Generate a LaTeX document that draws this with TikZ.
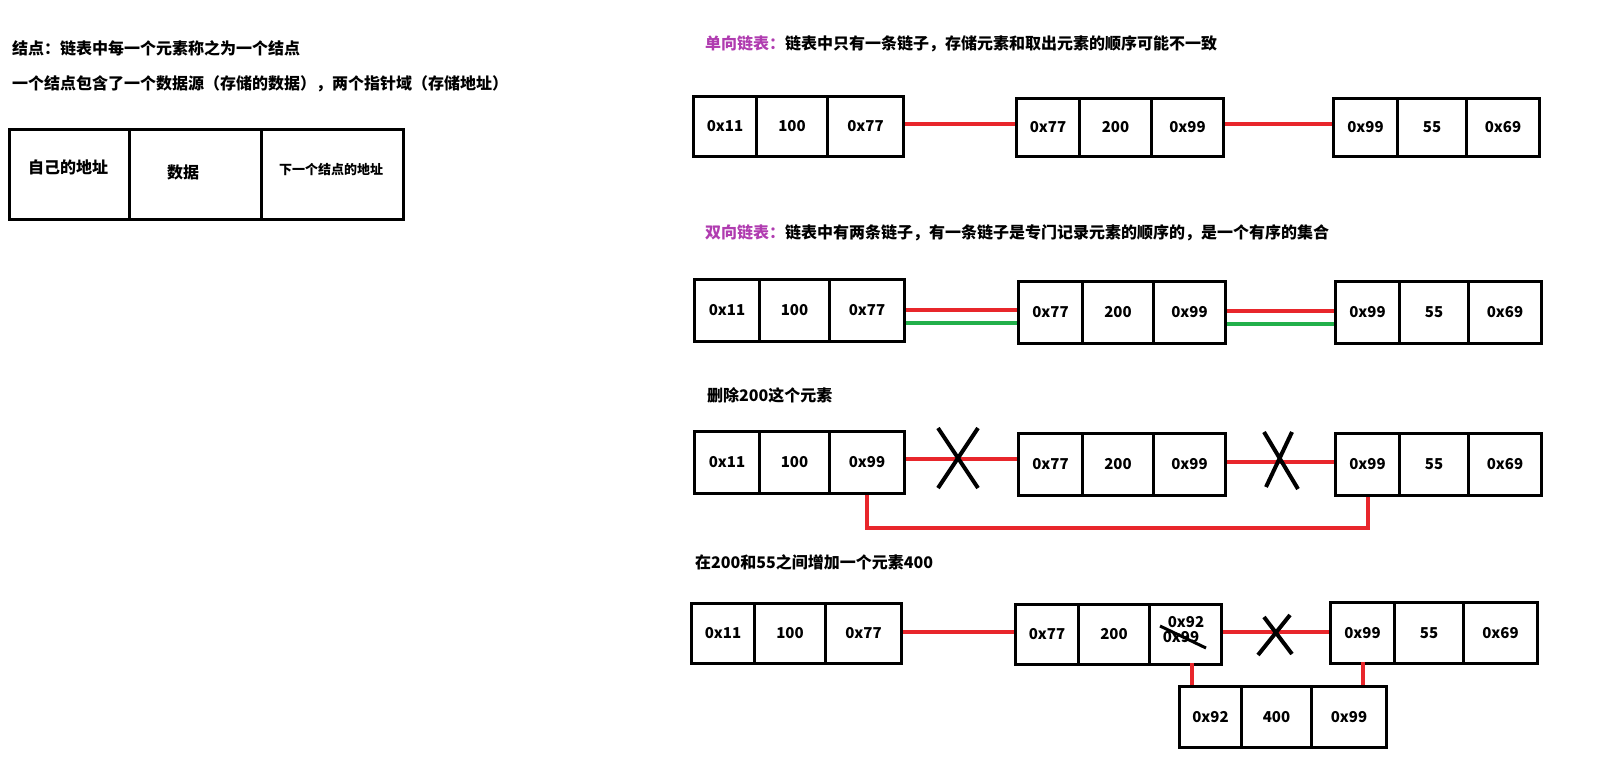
\documentclass[tikz,border=0pt]{standalone}
\usepackage{fontspec}
\setmainfont{Noto Sans CJK SC}
\usetikzlibrary{calc}
\definecolor{lred}{HTML}{E8262B}
\definecolor{lgreen}{HTML}{22B04B}
\definecolor{lpurp}{HTML}{B03CB0}
\tikzset{
  cell/.style={draw=black,line width=3pt,inner sep=0pt,font=\fontsize{15}{18}\selectfont\bfseries},
  title/.style={anchor=west,inner sep=0pt,font=\fontsize{16}{19}\selectfont\bfseries},
  link/.style={draw=lred,line width=4pt},
  glink/.style={draw=lgreen,line width=4pt},
  cross/.style={draw=black,line width=4pt}
}
\begin{document}
\begin{tikzpicture}[x=1pt,y=-1pt]
\useasboundingbox (0,0) rectangle (1601,772);
% top-left
\node[title] (t1) at (12,48) {结点：链表中每一个元素称之为一个结点};
\node[title] (t2) at (12,84) {一个结点包含了一个数据源（存储的数据），两个指针域（存储地址）};
\node[cell,minimum width=120,minimum height=90,anchor=north west] (ta) at (8,128) {};
\node[cell,minimum width=132,minimum height=90,anchor=north west] (tb) at (128,128) {};
\node[cell,minimum width=142,minimum height=90,anchor=north west] (tc) at (260,128) {};
\node[font=\fontsize{16}{19}\selectfont\bfseries] (tal) at (68,167) {自己的地址};
\node[font=\fontsize{16}{19}\selectfont\bfseries] (tbl) at (183,172) {数据};
\node[font=\fontsize{13}{16}\selectfont\bfseries] (tcl) at (331,170) {下一个结点的地址};

% Section 1
\node[title] (s1) at (705,44) {\textcolor{lpurp}{单向链表：}链表中只有一条链子，存储元素和取出元素的顺序可能不一致};
\foreach \n/\xa/\xb/\xc/\xd/\yt/\yb/\ta/\tb/\tc in {
  pa/692/755/826/902/95/155/0x11/100/0x77,
  pb/1015/1078/1150/1222/97/155/0x77/200/0x99,
  pc/1332/1396/1465/1538/97/155/0x99/55/0x69,
  qa/693/758/828/903/278/340/0x11/100/0x77,
  qb/1017/1081/1152/1224/280/342/0x77/200/0x99,
  qc/1334/1398/1467/1540/280/342/0x99/55/0x69,
  ra/693/758/828/903/430/492/0x11/100/0x99,
  rb/1017/1081/1152/1224/432/494/0x77/200/0x99,
  rc/1334/1398/1467/1540/432/494/0x99/55/0x69,
  ua/690/753/824/900/602/662/0x11/100/0x77,
  ub/1014/1077/1148/1220/603/663/0x77/200/{},
  uc/1329/1393/1462/1536/601/662/0x99/55/0x69,
  ud/1178/1240/1310/1385/685/746/0x92/400/0x99}{
  \node[cell,minimum width=\xb-\xa,minimum height=\yb-\yt,anchor=north west] (\n1) at (\xa,\yt) {\ta};
  \node[cell,minimum width=\xc-\xb,minimum height=\yb-\yt,anchor=north west] (\n2) at (\xb,\yt) {\tb};
  \node[cell,minimum width=\xd-\xc,minimum height=\yb-\yt,anchor=north west] (\n3) at (\xc,\yt) {\tc};
}
\draw[link] ($(pa3.east)+(0,-3)$) -- ($(pb1.west|-pa3.east)+(0,-3)$);
\draw[link] ($(pb3.east)+(0,-4)$) -- ($(pc1.west|-pb3.east)+(0,-4)$);

% Section 2
\node[title] (s2) at (705,233) {\textcolor{lpurp}{双向链表：}链表中有两条链子，有一条链子是专门记录元素的顺序的，是一个有序的集合};
\draw[link] ($(qa3.east)+(0,-1)$) -- ($(qb1.west|-qa3.east)+(0,-1)$);
\draw[glink] ($(qa3.east)+(0,12)$) -- ($(qb1.west|-qa3.east)+(0,12)$);
\draw[link] ($(qb3.east)+(0,-2)$) -- ($(qc1.west|-qb3.east)+(0,-2)$);
\draw[glink] ($(qb3.east)+(0,11)$) -- ($(qc1.west|-qb3.east)+(0,11)$);

% Section 3
\node[title] (s3) at (707,395) {删除200这个元素};
\draw[link] ($(ra3.east)+(0,-4)$) -- ($(rb1.west|-ra3.east)+(0,-4)$);
\draw[link] ($(rb3.east)+(0,-3)$) -- ($(rc1.west|-rb3.east)+(0,-3)$);
\draw[cross] (938,428) -- (978,488) (978,428) -- (938,488);
\draw[cross] (1264,432) -- (1298,489) (1292,432) -- (1266,487);
\coordinate (rdn) at (1368,528);
\draw[link] (ra3.south) -- (ra3.south|-rdn) -- (rdn) -- (rdn|-rc1.south);

% Section 4
\node[title] (s4) at (695,562) {在200和55之间增加一个元素400};
\node[font=\fontsize{15}{18}\selectfont\bfseries] (n92) at (1186,622) {0x92};
\node[font=\fontsize{15}{18}\selectfont\bfseries] (n99) at (1181,637) {0x99};
\draw[line width=3pt] (1160,626) -- (1206,648);
\draw[link] ($(ua3.east)+(0,-2)$) -- ($(ub1.west|-ua3.east)+(0,-2)$);
\draw[link] ($(ub3.east)+(0,-3)$) -- ($(uc1.west|-ub3.east)+(0,-3)$);
\draw[cross] (1264,617) -- (1292,654) (1290,615) -- (1258,655);
\coordinate (ua) at (1192,663);
\coordinate (ub) at (1363,662);
\draw[link] (ua) -- (ua|-ud1.north);
\draw[link] (ub) -- (ub|-ud3.north);
\end{tikzpicture}
\end{document}
